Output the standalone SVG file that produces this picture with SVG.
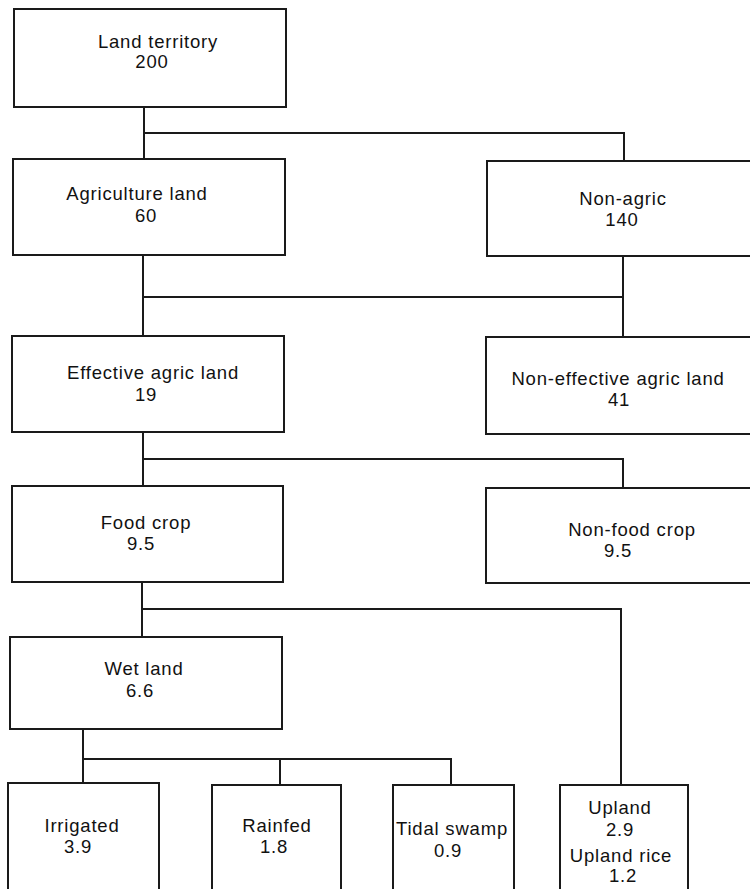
<svg xmlns="http://www.w3.org/2000/svg" width="750" height="889" viewBox="0 0 750 889">
<style>
.box{fill:#fff;stroke:#1a1a1a;stroke-width:2}
.ln{fill:none;stroke:#1a1a1a;stroke-width:2}
text{font-family:"Liberation Sans",Arial,sans-serif;font-size:18.5px;fill:#111;text-anchor:middle;letter-spacing:0.8px}
</style>
<rect width="750" height="889" fill="#fff"/>
<g id="connectors">
<path class="ln" d="M144 107V159M144 133H624V161"/>
<path class="ln" d="M143 255V336M623 256V337M143 297H623"/>
<path class="ln" d="M143 432V486M143 459H623V488"/>
<path class="ln" d="M142 582V637M142 609H621V785"/>
<path class="ln" d="M83 729V783M83 759H451V785M280 759V785"/>
</g>
<g id="land-territory"><rect class="box" x="14" y="9" width="272" height="98"/><text x="158" y="48">Land territory</text><text x="152" y="68">200</text></g>
<g id="agriculture-land"><rect class="box" x="13" y="159" width="272" height="96"/><text x="137" y="200">Agriculture land</text><text x="146" y="222">60</text></g>
<g id="non-agric"><rect class="box" x="487" y="161" width="270" height="95"/><text x="623" y="205">Non-agric</text><text x="622" y="226">140</text></g>
<g id="effective-agric"><rect class="box" x="12" y="336" width="272" height="96"/><text x="153" y="379">Effective agric land</text><text x="146" y="401">19</text></g>
<g id="non-effective-agric"><rect class="box" x="486" y="337" width="271" height="97"/><text x="618" y="385">Non-effective agric land</text><text x="619" y="406">41</text></g>
<g id="food-crop"><rect class="box" x="12" y="486" width="271" height="96"/><text x="146" y="529">Food crop</text><text x="141" y="550">9.5</text></g>
<g id="non-food-crop"><rect class="box" x="486" y="488" width="271" height="95"/><text x="632" y="536">Non-food crop</text><text x="618" y="557">9.5</text></g>
<g id="wet-land"><rect class="box" x="10" y="637" width="272" height="92"/><text x="144" y="675">Wet land</text><text x="140" y="697">6.6</text></g>
<g id="irrigated"><rect class="box" x="8" y="783" width="151" height="115"/><text x="82" y="832">Irrigated</text><text x="78" y="853">3.9</text></g>
<g id="rainfed"><rect class="box" x="212" y="785" width="129" height="113"/><text x="277" y="832">Rainfed</text><text x="274" y="853">1.8</text></g>
<g id="tidal-swamp"><rect class="box" x="393" y="785" width="121" height="113"/><text x="452" y="835">Tidal swamp</text><text x="448" y="857">0.9</text></g>
<g id="upland"><rect class="box" x="560" y="785" width="128" height="113"/><text x="620" y="814">Upland</text><text x="620" y="836">2.9</text><text x="621" y="862">Upland rice</text><text x="623" y="882">1.2</text></g>
</svg>
